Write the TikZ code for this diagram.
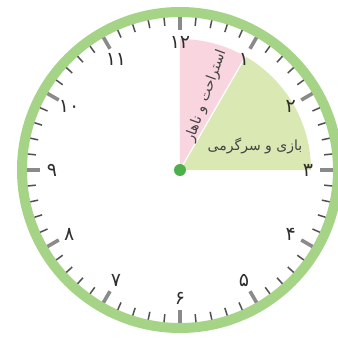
\documentclass[tikz,border=0pt]{standalone}
\usepackage{fontspec}
\TeXXeTstate=1
\newfontfamily\arabicfont[Script=Arabic]{DejaVu Sans}
\definecolor{ringgreen}{HTML}{A6D486}
\definecolor{dotgreen}{HTML}{4DB04C}
\definecolor{pinksec}{HTML}{F9D6DF}
\definecolor{greensec}{HTML}{DAE8B3}
\definecolor{hourgray}{HTML}{8A8A8A}
\definecolor{mingray}{HTML}{505050}
\definecolor{txtgray}{HTML}{2E2E2E}
\tikzset{
  numstyle/.style={font=\arabicfont\fontsize{19}{22}\selectfont, text=txtgray, inner sep=0pt},
  labstyle/.style={font=\arabicfont\fontsize{14}{16}\selectfont, text=txtgray!90, inner sep=0pt},
  hourtick/.style={line width=3.6pt, draw=hourgray},
  mintick/.style={line width=1.5pt, draw=mingray},
}
\begin{document}
\begin{tikzpicture}[x=1pt,y=1pt]
\useasboundingbox (-180,-168) rectangle (158,170);
\fill[white] (-180,-168) rectangle (158,170);
% sectors
\fill[pinksec] (0,0) -- (90:131) arc[start angle=90, end angle=60, radius=131] -- cycle;
\fill[greensec] (0,0) -- (60:131) arc[start angle=60, end angle=0, radius=131] -- cycle;
\draw[white, line width=1.2pt] (0,0) -- (60:131);
% ring
\draw[ringgreen, line width=10pt] (0,0) circle[radius=158];
% ticks
\foreach \m in {0,...,59}{
  \pgfmathtruncatemacro{\r}{mod(\m,5)}
  \ifnum\r=0
    \draw[hourtick] ({90-6*\m}:153) -- ({90-6*\m}:140);
  \else
    \draw[mintick] ({90-6*\m}:153) -- ({90-6*\m}:145);
  \fi
}
% numbers
\foreach \h/\t in {1/۱,2/۲,3/۳,4/۴,5/۵,6/۶,7/۷,8/۸,9/۹,10/۱۰,11/۱۱,12/۱۲}{
  \node[numstyle] (n\h) at ({90-30*\h}:128) {\t};
}
% labels
\node[labstyle, rotate=70] (rest) at (26,74) {\beginR استراحت و ناهار\endR};
\node[labstyle] (play) at (75,24) {\beginR بازی و سرگرمی\endR};
% center dot
\fill[dotgreen] (0,0) circle[radius=6];
\end{tikzpicture}
\end{document}
